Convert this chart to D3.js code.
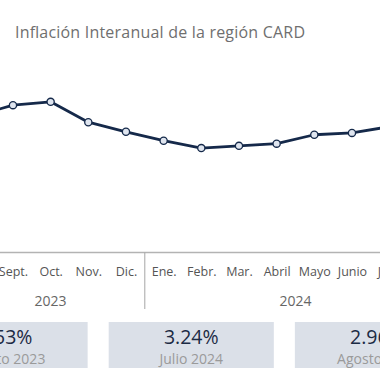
<!DOCTYPE html>
<html><head><meta charset="utf-8">
<script src="https://cdn.jsdelivr.net/npm/d3@7/dist/d3.min.js"></script>
<style>html,body{margin:0;padding:0;background:#fff}svg{display:block}</style>
</head><body>
<svg id="chart" width="380" height="380"></svg>
<script>
// ---- data ----
const title = "Inflación Interanual de la región CARD";
const periods = ["2023-08","2023-09","2023-10","2023-11","2023-12","2024-01","2024-02","2024-03","2024-04","2024-05","2024-06","2024-07","2024-08"];
const monthLabels = ["Agosto","Sept.","Oct.","Nov.","Dic.","Ene.","Febr.","Mar.","Abril","Mayo","Junio","Julio","Agosto"];
const inflation = [3.53,3.82,3.91,3.36,3.10,2.86,2.66,2.72,2.78,3.02,3.07,3.24,2.96];
const years = ["2023","2024"];
const summaryLabels = ["Agosto 2023","Julio 2024","Agosto 2024"];
const summaryValues = [3.53,3.24,2.96];

// ---- layout ----
const W = 380, H = 380;
const svg = d3.select("#chart");
const FONT = "'Open Sans', 'Noto Sans', sans-serif";
const navy = "#15294a";

const x = d3.scalePoint().domain(periods).range([-24.7, 427.3]);
const y = d3.scaleLinear().domain([0, 4]).range([246.5, 98.5]);

// title
svg.append("text")
  .attr("x", 15).attr("y", 37.5)
  .attr("font-family", FONT).attr("font-size", 16)
  .attr("textLength", 290).attr("lengthAdjust", "spacing")
  .attr("fill", "#6f6f6f")
  .text(title);

// baseline axis
const axisY = 252.5;
svg.append("line")
  .attr("x1", 0).attr("x2", W).attr("y1", axisY).attr("y2", axisY)
  .attr("stroke", "#b3b3b3").attr("stroke-width", 1.5);

// month labels via axis
const xAxis = d3.axisBottom(x).tickSize(0).tickPadding(0)
  .tickFormat((d, i) => monthLabels[i]);
const gx = svg.append("g").attr("transform", `translate(0,${axisY})`).call(xAxis);
gx.select(".domain").remove();
gx.selectAll("text")
  .attr("y", 23.5).attr("dy", null)
  .attr("font-family", FONT).attr("font-size", 12.5)
  .attr("fill", "#555");

// year groups
const yearIdx = years.map(yr => {
  const idx = periods.map((p, i) => p.startsWith(yr) ? i : -1).filter(i => i >= 0);
  return {yr, first: periods[idx[0]], last: periods[idx[idx.length - 1]]};
});
const step = x.step();
yearIdx.forEach((g, k) => {
  const cx = (x(g.first) + x(g.last)) / 2;
  svg.append("text")
    .attr("x", cx).attr("y", 306)
    .attr("text-anchor", "middle")
    .attr("font-family", FONT).attr("font-size", 14)
    .attr("fill", "#666")
    .text(g.yr);
  if (k < yearIdx.length - 1) {
    const xd = x(g.last) + step / 2;
    svg.append("line")
      .attr("x1", xd).attr("x2", xd).attr("y1", axisY).attr("y2", 309)
      .attr("stroke", "#a6a6a6").attr("stroke-width", 1);
  }
});

// line
const line = d3.line().x((d, i) => x(periods[i])).y(d => y(d));
svg.append("path")
  .datum(inflation)
  .attr("d", line)
  .attr("fill", "none")
  .attr("stroke", navy).attr("stroke-width", 2.8)
  .attr("stroke-linejoin", "round");

svg.selectAll("circle.pt")
  .data(inflation)
  .join("circle").attr("class", "pt")
  .attr("cx", (d, i) => x(periods[i]))
  .attr("cy", d => y(d))
  .attr("r", 3.6)
  .attr("fill", "#dfe5ef")
  .attr("stroke", navy).attr("stroke-width", 1.3);

// summary boxes
const b = d3.scaleBand().domain(summaryLabels).range([-77.5, 460]).paddingInner(0.113).paddingOuter(0);
const boxes = svg.selectAll("g.box").data(summaryLabels).join("g").attr("class", "box");
boxes.append("rect")
  .attr("x", d => b(d)).attr("y", 322)
  .attr("width", b.bandwidth()).attr("height", 46)
  .attr("fill", "#dbe0e8");
boxes.append("text")
  .attr("x", d => b(d) + b.bandwidth() / 2).attr("y", 343.5)
  .attr("text-anchor", "middle")
  .attr("font-family", FONT).attr("font-size", 19.5)
  .attr("fill", "#1c2b44")
  .text((d, i) => summaryValues[i].toFixed(2) + "%");
boxes.append("text")
  .attr("x", d => b(d) + b.bandwidth() / 2).attr("y", 364)
  .attr("text-anchor", "middle")
  .attr("font-family", FONT).attr("font-size", 14)
  .attr("fill", "#9a9a9a")
  .text(d => d);
</script>
</body></html>
